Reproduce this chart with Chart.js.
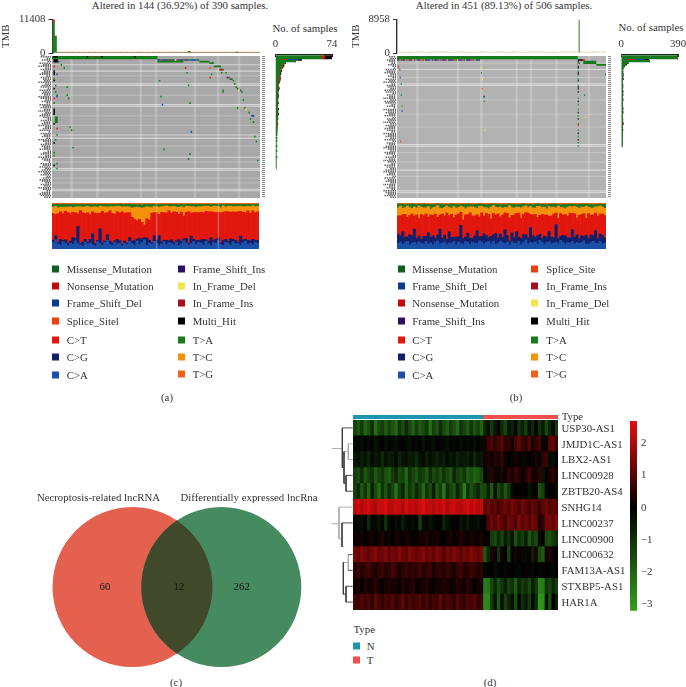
<!DOCTYPE html>
<html>
<head>
<meta charset="utf-8">
<title>Mutation landscape and lncRNA heatmap</title>
<script src="https://cdn.jsdelivr.net/npm/chart.js@4"></script>
<style>
  html, body { margin: 0; padding: 0; background: #fff; }
  body { position: relative; width: 686px; height: 687px; overflow: hidden; font-family: "Liberation Serif", serif; color: #333; }
  canvas { position: absolute; display: block; }
  .t { position: absolute; white-space: nowrap; font-size: 10.8px; line-height: 12px; transform: translateY(-50%); }
  .c { transform: translate(-50%, -50%); }
  .sq { position: absolute; width: 7px; height: 7px; transform: translateY(-50%); }
</style>
</head>
<body>
<script>
// ---- colours
const colMissense = '#167a1c', colNonsense = '#d9140f', colFsDel = '#12459c', colSplice = '#ee4a14';
const colFsIns = '#2b0f66', colInDel = '#f2e44d', colInIns = '#a8101f', colMulti = '#000000';
const colCA = '#1b50a8', colCG = '#12206b', colCT = '#e2170d', colTA = '#1b7a1f', colTC = '#f5920b', colTG = '#f0621a';

// ---- panel (a) TMB
const tmbPaleA = [0,0,300,420,260,380,240,450,310,280,390,220,340,410,270,300,360,250,430,290,320,380,240,350,400,270,310,260,440,300,
  340,230,390,280,360,310,250,420,270,330,380,240,300,450,290,350,260,410,320,280,370,230,340,400,300,260,390,310,280,430,
  250,360,320,270,410,300,340,240,0,380,290,350,260,420,310,280,370,230,400,330,270,360,300,250,440,290,340,380,260,310,
  420,280,350,240,390,300,270,360,320,250,410,290,340,280];
const tmbSpikeColsA = [0, 1, 68, 92];
const tmbSpikeGreenA = [10500, 5500, 480, 260];
const tmbSpikeRedA = [908, 240, 0, 0];

// ---- panel (b) TMB
const tmbPaleB = [200,310,260,180,340,230,280,320,190,250,360,210,300,270,170,330,240,290,220,350,260,190,310,280,230,340,200,270,320,250,
  180,300,360,220,260,290,210,330,240,190,310,270,350,230,280,200,320,250,170,300,260,340,220,290,190,310,240,280,360,210,
  270,330,200,250,300,180,340,260,220,290,310,230,190,350,270,240,320,210,280,260,300,190,340,230,270,310,250,200,360,220,
  280,0,300,240,190,330,260,210,290,350,230,270,200,320,250];
const tmbSpikeColsB = [91];
const tmbSpikeGreenB = [8400];
const tmbSpikeRedB = [558];

// ---- oncoplot (a): [first sample, last sample, row]
const missenseA = [[0,73,0],[0,73,1],[76,77,2],[81,83,2],[87,88,2],[90,91,2],[94,96,2],[100,102,2],[73,91,3],[102,109,3],[109,112,4],[112,117,6],[116,119,8],
  [6,7,5],[8,9,7],[93,94,10],[110,111,11],[117,118,10],[120,121,10],[123,125,14],[125,126,15],[126,127,17],[127,128,19],[128,129,20],[131,132,22],
  [118,119,21],[118,119,22],[132,133,27],[128,129,32],[133,134,32],[136,137,35],[137,138,39],[139,140,41],[140,141,50],[141,142,53],[142,143,65],
  [74,75,15],[94,95,18],[75,76,25],[95,96,29],[77,78,58],[95,96,61],[94,95,64],
  [10,11,19],[10,11,24],[11,12,26],[12,13,44],[13,14,46],[14,15,57],
  [1,2,14],[2,3,18],[2,3,22],[3,4,24],[1,2,29],[2,4,38],[2,4,39],[2,4,40],[2,4,41],[3,4,49],[2,3,52],[1,2,60],[1,2,62],[3,4,67],[3,4,70]];
const nonsenseA = [[75,76,2],[80,81,2],[86,87,2],[91,92,2],[30,31,0],[92,93,7],[109,110,13],[122,123,13],[116,118,8],[1,2,6],[1,2,26],[3,4,45]];
const frameDelA = [[73,75,2],[77,80,2],[83,85,2],[88,90,2],[92,94,2],[96,100,2],[4,5,3],[3,4,11],[3,4,25],[121,122,13],[130,131,21],[138,140,37],[76,77,30],[96,97,47]];
const spliceA = [[109,110,7]];
const inDelA = [[85,86,2],[129,130,21],[134,135,33]];
const multiA = [[1,4,0],[24,25,0],[34,35,0],[57,58,0],[1,4,2],[1,4,3],[1,2,9],[1,2,10],[1,2,11],[1,2,15],[1,2,20],[1,2,33],[1,2,34],[1,2,35],[1,2,36],[1,2,42],[1,2,54],[1,2,68]];
const whiteRowsA = [5,9,17,18,30,31,49,51,63,70,71,83,84];
const paleRowsA = [12,24,37,43,56,66,76,79];
const paleColsA = [[12,15],[30,33],[60,63],[71,73],[98,100],[114,116],[128,131]];
const labelCharsA = [9,4,8,3,10,7,11,5,9,6,8,10,4,9,7,6,11,5,8,9,3,10,7,8,6,11,9,5,8,4,10,7,9,6,12,5,8,10,7,3,9,6,8,11,5,7,10,2,9,6,8,4,11,7,5,9,
  8,6,10,3,7,9,5,11,8,6,2,9,7,10,5,8,11,6,9,4,7,10,8,5,9,6,11,7,4,8,10,9,6];

// ---- oncoplot (b)
const missenseB = [[0,390,0],[0,390,1],[390,392,4],[390,392,9],[390,392,14],[390,392,18],[390,392,26],[390,392,30],[390,392,33],[390,392,37],[390,392,42],[390,392,46],[390,392,50],[390,392,54],[390,392,56],
  [402,430,3],[402,430,4],[430,451,5],[393,395,4],[5,7,8],[8,10,17],[8,10,24],[10,12,31],[181,183,10],[186,188,25],[187,189,28],[190,192,51],[404,406,24],[449,451,11],
  [3,5,2],[9,12,2],[16,18,2],[30,33,2],[42,44,2],[60,63,2],[75,78,2],[92,94,2],[110,112,2],[126,129,2],[145,147,2],[165,167,2],[176,179,2]];
const nonsenseB = [[5,7,2],[20,23,2],[37,40,2],[55,58,2],[70,72,2],[88,90,2],[104,107,2],[120,123,2],[139,142,2],[158,161,2],[401,405,2],[2,4,6],[390,392,43]];
const frameDelB = [[0,3,2],[12,16,2],[26,30,2],[44,50,2],[63,70,2],[80,88,2],[97,104,2],[112,120,2],[132,139,2],[149,158,2],[170,176,2],[6,8,13],[10,12,34],[188,190,25]];
const spliceB = [[7,9,2],[23,26,2],[50,55,2],[78,80,2],[94,97,2],[123,126,2],[142,145,2],[161,165,2],[7,9,53],[183,185,20],[2,4,7]];
const inDelB = [[180,182,7],[183,185,14],[189,191,46],[405,407,38]];
const multiB = [[390,401,2],[390,392,3],[390,392,6],[390,392,7],[390,392,10],[390,392,11],[390,392,15],[390,392,19],[390,392,20],[390,392,22],[390,392,28],[390,392,35],[390,392,39],[390,392,48],[390,392,52]];
const whiteRowsB = [8,17,18,55,56,71,84,85];
const paleRowsB = [4,13,27,36,44,60,66,75];
const paleColsB = [[40,48],[128,135],[178,186],[255,262],[285,293],[340,348],[410,418]];
const labelCharsB = [6,5,8,6,4,7,3,2,9,8,10,5,7,3,9,6,11,4,8,7,5,10,9,3,8,6,12,5,10,9,4,8,2,11,7,9,6,10,3,8,7,12,5,9,6,10,8,4,11,7,9,5,10,3,8,
  6,9,11,7,5,10,8,3,9,6,12,7,4,10,8,5,9,11,6,8,3,10,7,9,5,12,6,8,4,11,9,7,10,5];

// ---- side bars: number of samples per row
const sideGreenA = [0,60,60,9,26,13,10,8,7,6,6,5,5,5,4,4,4,4,3,3,3,3,3,3,2,3,2,3,2,2,3,2,2,2,3,2,2,2,2,2,3,2,2,2,2,2,1,2,1,2,2,1,2,1,2,1,1,2,1,1,2,1,1,1,2,1,1,1,1,1,1,1];
const sideRedA = [0,4,4,6,0,0,1,2,2,1,1,1,0,0,2,2,1,1,1,0,1,1,0,0,1,1,1,0,1,0,0,1,0,0,0,0,0,1,0,0,0,0,0,1,0,0,1];
const sideBlueA = [0,0,0,15,0,0,0,0,0,0,0,0,1,0,0,0,0,0,0,0,0,0,1,0,0,0,1,0,0,0,1,0,0,0,0,0,0,0,1,0,0,0,0,0,0,0,0,0,1];
const sideBlackA = [0,10,10,4,0,0,0,1,0,0,1,1,1,0,0,0,1,0,0,0,0,1,0,0,0,0,0,0,0,0,0,0,0,0,1,1,1,1];
const sideGreenB = [0,385,385,34,195,40,30,20,12,10,10,9,10,9,8,10,9,9,8,10,9,8,9,10,9,8,9,9,10,8,9,8,9,9,8,9,10,8,9,9,8,10,8,9,8,9,8,9,8,8,9,8,9,8,8,9,8,8];
const sideRedB = [0,3,3,57,0,0,0,0,0,0,0,0,0,0,0,2,0,0,0,0,0,0,0,0,0,0,0,0,0,0,0,0,0,0,0,0,0,0,0,0,0,0,0,3,0,0,0,0,0,0,0,2];
const sideBlueB = [0,0,0,69,0,0,0,0,0,0,0,0,0,3,0,0,0,0,0,0,0,0,0,0,0,3,0,0,0,0,0,0,0,0,3];
const sideBlackB = [0,2,2,30,0,8,6,0,0,0,0,2,2,0,0,2,0,0,0,0,2,2,0,2,0,0,0,0,2,0,0,0,0,2,0,0,2,0,0,0,2,0,0,2,0,0,0,2];

// ---- transitions and transversions, share per sample group, bottom to top
const txCA_A = [14,20,11,8,16,12,7,13,10,18,12,9,6,15,11,13,9,7,16,12,8,14,19,10,8,15,11,13,7,12,10,17,12,8,18,11,15,20,8,13,10,17,12,7,11,16,9,14,12,9,15,8,11,18,13,8,12,16,10,15,13,9,17,11,7,14,12,19,10,8,15,13,9,16,11,12,8,14,17,10,13,9,15,12];
const txCG_A = [5,9,4,13,3,8,6,4,15,5,38,3,9,6,4,8,24,5,3,32,6,4,12,7,5,3,10,5,4,6,3,8,5,11,4,14,8,5,16,6,4,12,7,22,5,3,10,4,8,5,3,14,6,4,10,5,16,5,8,4,7,12,3,6,18,4,9,5,3,11,6,4,13,5,8,3,20,6,4,9,5,12,4,7];
const txCT_A = [58,46,62,60,58,62,66,60,55,56,28,72,64,56,64,54,48,66,58,34,68,60,48,66,64,58,60,60,70,60,66,54,52,48,40,46,36,28,42,44,64,50,60,46,64,60,60,66,58,66,62,58,64,50,56,68,50,58,62,60,60,58,62,64,56,62,58,56,66,62,60,64,58,60,62,66,54,60,58,64,60,62,60,62];
const txTC_A = [14,18,12,10,14,9,12,15,10,12,16,8,12,15,14,16,10,14,13,15,10,14,12,9,15,16,12,14,10,14,13,12,20,26,30,28,32,38,26,28,12,14,13,16,12,14,15,9,14,12,11,16,12,18,13,12,14,13,10,13,12,14,11,12,10,13,14,12,11,14,10,12,13,11,12,12,11,12,13,10,14,11,13,12];
const txTA_A = [6,4,8,6,6,6,6,5,7,6,5,5,6,5,4,6,6,5,7,4,5,5,6,5,5,5,4,5,6,5,5,6,8,7,5,8,6,7,5,6,7,4,5,6,5,4,3,5,5,4,6,7,5,6,4,4,5,5,7,5,5,4,4,4,6,4,4,5,7,3,6,4,4,5,5,4,4,5,5,4,5,3,5,4];
const txTG_A = [3,3,3,3,3,3,3,3,3,3,3,3,3,3,3,3,3,3,3,3,3,3,3,3,3,3,3,2,3,3,3,3,3,3,4,3,5,3,3,3,3,3,3,3,3,3,3,3,3,3,3,3,3,4,3,3,3,3,3,3,3,3,3,3,3,3,3,3,3,3,3,3,3,3,3,3,3,3,3,3,3,3,3,3];
const gapColsA = [42, 67];

const txCA_B = [12,16,10,14,18,9,13,15,11,17,13,10,16,12,14,9,15,19,11,13,16,10,14,12,18,9,15,13,11,17,14,10,16,12,13,19,15,11,14,17,12,16,10,13,18,14,11,15,9,16,13,12,17,10,14,19,11,15,13,16,12,18,14,10,15,17,11,13,16,12,19,14,10,15,13,17,11,16,12,14,18,13,10,15,17,12,14,16,11,13];
const txCG_B = [20,14,28,12,10,22,16,30,12,14,8,18,11,26,13,20,9,14,32,11,16,10,24,13,9,17,12,38,15,10,20,13,9,16,28,10,12,22,15,9,18,13,24,11,16,12,30,14,10,19,12,26,9,15,17,11,13,34,16,10,20,13,9,18,12,24,15,11,40,13,9,16,20,12,10,26,14,18,11,15,9,22,13,16,12,28,10,15,19,12];
const txCT_B = [40,46,38,50,46,42,48,30,52,42,54,46,48,36,50,44,52,42,30,52,44,56,36,50,46,48,50,28,46,50,40,54,52,44,36,46,50,38,48,52,42,44,40,52,40,50,36,48,56,38,50,40,52,48,44,46,54,30,46,50,44,40,52,46,50,36,46,52,26,48,50,44,48,50,54,36,50,40,52,46,50,42,54,44,46,38,52,42,46,50];
const txTC_B = [18,22,14,15,26,17,12,20,15,30,16,17,13,24,13,17,15,28,15,12,20,15,18,13,26,15,14,13,32,14,16,13,21,18,14,24,14,19,12,13,28,16,17,14,22,15,12,13,30,17,15,14,13,24,16,14,12,18,15,14,27,19,15,17,14,23,18,15,12,29,13,16,13,21,15,14,16,26,15,16,14,31,14,16,15,14,22,17,15,16];
const txTA_B = [7,5,9,6,4,7,10,6,7,4,6,9,7,5,10,7,6,4,8,9,6,3,7,9,5,8,6,4,7,10,7,5,5,7,9,6,4,7,6,10,7,3,6,7,5,9,6,7,4,7,8,5,6,9,6,3,7,5,7,8,6,4,7,6,9,5,7,7,8,4,6,7,10,7,5,6,4,6,9,6,7,5,6,8,7,5,6,4,6,9];
const txTG_B = [3,2,3,4,3,3,2,3,4,3,3,2,3,3,4,3,3,2,3,3,4,3,3,2,3,3,4,3,3,3,2,3,4,3,3,2,3,3,4,3,3,2,3,3,4,3,3,3,2,3,3,4,3,3,2,3,3,3,4,3,2,3,3,3,4,3,3,2,3,3,4,3,3,3,2,3,3,4,3,3,2,3,3,3,4,3,3,2,3,3];

// ---- panel (c) venn
const vennLeftOnly = 60, vennBoth = 12, vennRightOnly = 262;
const vennCentres = [0, 1.11];

// ---- panel (d) heatmap, z score x 10
const geneNames = ['USP30-AS1','JMJD1C-AS1','LBX2-AS1','LINC00928','ZBTB20-AS4','SNHG14','LINC00237','LINC00900','LINC00632','FAM13A-AS1','STXBP5-AS1','HAR1A'];
const typeCounts = [38, 22];
const heatUSP30 = [-14,-18,-11,-20,-16,-9,-22,-15,-12,-19,-13,-17,-21,-10,-16,-8,-14,-20,-12,-18,-15,-11,-23,-13,-17,-9,-15,-19,-12,-16,-21,-10,-14,-18,-11,-17,-13,-20,-8,-3,-12,-5,2,-9,-14,-4,-7,-1,-11,-6,-13,-3,-8,1,-10,-5,-15,-7,-2,-12];
const heatJMJD1C = [-2,-1,-3,0,-2,-1,-4,-2,0,-3,-1,-2,-3,-1,0,-2,-3,-1,-2,0,-4,-1,-2,-3,0,-1,-2,-3,-1,-2,0,-3,-1,-2,-1,-3,0,-2,3,7,9,5,8,10,4,6,2,8,11,7,5,9,3,6,8,1,2,10,12,7];
const heatLBX2 = [-5,-3,-6,-4,-7,-2,-5,-4,-8,-3,-6,-5,-2,-7,-4,-3,-6,-5,-8,-4,-2,-6,-3,-5,-7,-4,-6,-2,-5,-3,-7,-4,-5,-6,-3,-8,-4,-5,2,4,1,5,3,6,2,0,-1,3,1,-2,2,0,1,3,-1,6,7,-2,-3,0];
const heatL928 = [-12,-15,-9,-17,-13,-10,-18,-14,-11,-16,-19,-12,-8,-15,-13,-20,-10,-14,-17,-11,-13,-18,-9,-15,-12,-16,-10,-14,-17,-8,-13,-15,-11,-19,-16,-20,-18,-14,1,-3,5,2,-2,4,-1,6,3,7,5,1,4,8,3,2,6,-4,-1,3,6,2];
const heatZBTB = [-13,-8,-18,-11,-20,-6,-15,-22,-10,-17,-9,-14,-23,-12,-7,-19,-11,-16,-8,-13,-21,-10,-15,-6,-18,-12,-24,-9,-14,-17,-7,-13,-25,-10,-16,-12,-8,-15,-14,-6,-18,-3,-15,-9,-17,-11,-2,0,1,-1,0,-4,-2,0,-16,-13,-1,0,1,-3];
const heatSNHG = [22,24,21,23,25,22,20,24,23,26,21,22,24,23,20,25,22,23,21,24,26,22,23,21,24,22,25,20,23,24,22,21,23,25,22,24,21,23,10,13,9,12,8,11,13,10,14,12,9,13,11,8,12,10,7,11,13,9,12,10];
const heatL237 = [-1,-2,-3,0,-8,-1,-2,-4,-1,-10,-2,0,-3,-1,-6,-2,-1,-3,0,-12,-2,-1,-4,-2,0,-1,-7,-3,-2,-1,0,-4,-2,-5,-1,-2,-3,-1,1,9,13,10,14,11,8,13,12,9,15,11,13,10,14,12,3,6,13,14,12,15];
const heatL900 = [2,1,3,0,2,3,1,2,4,1,2,0,3,2,1,3,2,0,1,3,2,4,1,2,3,1,0,2,3,1,2,4,2,1,3,2,1,3,0,1,-12,-15,-8,-14,-5,-10,-3,-16,-9,-13,-6,-17,-11,-15,-2,1,-14,-16,-12,-9];
const heatL632 = [14,12,15,13,11,14,16,12,13,15,11,14,12,16,13,11,15,14,12,13,16,11,14,12,15,13,10,14,12,15,13,11,14,12,16,13,12,14,-18,-8,3,1,-10,2,0,-14,1,3,0,2,-2,1,-6,3,-15,-18,2,4,1,0];
const heatFAM13A = [5,7,4,6,8,5,3,6,7,4,5,8,6,3,5,7,4,6,5,8,4,6,7,3,5,6,4,7,5,3,6,8,4,5,7,6,4,5,-2,-1,0,-3,-1,0,-2,1,0,-1,-2,0,1,-1,-2,0,-1,1,0,-1,-2,0];
const heatSTXBP5 = [2,3,1,4,2,3,5,2,1,3,4,2,3,1,4,2,3,5,1,2,3,4,2,1,3,2,4,3,1,2,4,3,2,5,3,1,2,3,-25,-24,-14,-8,-16,-11,-6,-13,-10,-18,-7,-12,-9,-15,-6,-11,-26,-25,-10,-14,-8,-12];
const heatHAR1A = [8,6,10,7,9,5,11,8,6,9,7,10,5,8,11,6,9,7,8,10,6,9,5,8,7,11,6,9,8,5,10,7,6,9,8,10,6,7,-28,-27,-12,-4,-18,-2,-13,-7,-3,-15,-1,-9,-5,-12,-2,-8,-30,-29,-3,-16,0,-6];
const heatRows = [heatUSP30, heatJMJD1C, heatLBX2, heatL928, heatZBTB, heatSNHG, heatL237, heatL900, heatL632, heatFAM13A, heatSTXBP5, heatHAR1A];
const colorbarTicks = [-3, -2, -1, 0, 1, 2];

// dendrogram: [height, row, height, row]
const dendroDark = [[37,0.5,68,0.5],[37,0.5,37,3],[37,3,42,3],[42,2,42,4],[42,4,48,4],[48,3.5,48,4.5],[48,3.5,68,3.5],[48,4.5,68,4.5],
  [36,6.5,68,6.5],[36,6.5,36,8],[36,8,40,8],[40,9,40,11],[40,11,48,11],[48,10.5,48,11.5],[48,10.5,68,10.5],[48,11.5,68,11.5],[55,8.5,68,8.5],[55,9.5,68,9.5]];
const dendroGrey = [[5,1.8,37,1.8],[5,6.55,27,6.55],[27,5.5,68,5.5],[27,5.5,27,7.5],[27,7.5,36,7.5],[55,1.5,68,1.5],[55,2.5,68,2.5],[55,1.5,55,2.5],[42,2,55,2],[55,8.5,55,9.5],[40,9,55,9]];

// ---- settings
const SERIF = '"Liberation Serif", serif';
Chart.defaults.font.family = SERIF;
Chart.defaults.color = '#333';
Chart.defaults.animation = false;
Chart.defaults.layout.autoPadding = false; // big points would shrink the plot otherwise

function addCanvas(left, top, w, h) {
  const c = document.createElement('canvas');
  c.width = w; c.height = h;
  c.style.left = left + 'px'; c.style.top = top + 'px';
  c.style.width = w + 'px'; c.style.height = h + 'px';
  document.body.appendChild(c);
  return c;
}

function addText(text, x, y, centred, color) {
  const d = document.createElement('div');
  d.className = centred ? 't c' : 't';
  d.textContent = text;
  d.style.left = x + 'px'; d.style.top = y + 'px';
  if (color) d.style.color = color;
  document.body.appendChild(d);
}

function addSquare(color, x, y) {
  const d = document.createElement('div');
  d.className = 'sq';
  d.style.left = x + 'px'; d.style.top = y + 'px';
  d.style.background = color;
  document.body.appendChild(d);
}

// turns [from, to, row] into points of one broken line
function segsToLine(segs) {
  const out = [];
  segs.forEach(s => {
    out.push({x: s[0], y: s[2] + 0.5}, {x: s[1], y: s[2] + 0.5}, {x: null, y: null});
  });
  return out;
}

function lineSet(data, color, width, extra) {
  return Object.assign({
    data: data, borderColor: color, borderWidth: width, pointRadius: 0,
    borderCapStyle: 'butt', tension: 0, spanGaps: false
  }, extra || {});
}

// keeps the plot area exactly where layout.padding puts it
function noScalePadding(s) {
  s.paddingTop = 0; s.paddingBottom = 0; s.paddingLeft = 0; s.paddingRight = 0;
}

const NO_PLUGINS = { legend: {display: false}, tooltip: {enabled: false}, title: {display: false} };
const ROWS = 89;

// Oncoplot of one cohort
function drawOnco(cfg) {
  const pps = cfg.plotW / cfg.samples;
  const allRows = [];
  for (let r = 0; r < ROWS; r++) allRows.push([0, cfg.samples, r]);
  const labelSegs = cfg.labelChars.map((n, r) => [-(n * 1.15 + 1) / pps, -1 / pps, r]);
  const c = addCanvas(cfg.left, 56, cfg.w, 142);
  const rightX = cfg.samples + 3.5 / pps;
  new Chart(c, {
    type: 'line',
    data: {
      datasets: [
        lineSet(segsToLine(cfg.yellow), colInDel, 1.7),
        lineSet(segsToLine(cfg.black), colMulti, 1.7),
        lineSet(segsToLine(cfg.splice), colSplice, 1.7),
        lineSet(segsToLine(cfg.blue), colFsDel, 1.7),
        lineSet(segsToLine(cfg.red), colNonsense, 1.7),
        lineSet(segsToLine(cfg.green), colMissense, 1.7),
        lineSet(segsToLine(cfg.whiteRows.map(r => [0, cfg.samples, r])), 'rgba(255,255,255,0.5)', 1.1),
        lineSet(segsToLine(cfg.paleRows.map(r => [0, cfg.samples, r])), 'rgba(255,255,255,0.22)', 1.2),
        lineSet(cfg.paleCols.flatMap(p => [{x: (p[0] + p[1]) / 2, y: 0}, {x: (p[0] + p[1]) / 2, y: ROWS}, {x: null, y: null}]), 'rgba(255,255,255,0.2)', 2.5),
        lineSet(segsToLine(allRows), cfg.grey, 1.8),
        lineSet(segsToLine(labelSegs), 'rgba(40,40,40,0.72)', 1.5, {borderDash: [1.5, 0.8]}),
        lineSet([{x: rightX, y: 0}, {x: rightX, y: ROWS}], 'rgba(60,60,60,0.6)', 3, {borderDash: [1, 1]})
      ]
    },
    options: {
      responsive: false, maintainAspectRatio: false, animation: false,
      layout: {padding: 0},
      plugins: NO_PLUGINS,
      scales: {
        x: {type: 'linear', display: false, min: -(cfg.plotX - cfg.left) / pps, max: cfg.samples + (cfg.left + cfg.w - cfg.plotX - cfg.plotW) / pps},
        y: {type: 'linear', display: false, min: 0, max: ROWS, reverse: true}
      }
    }
  });
}

// TMB bars on top of an oncoplot
function drawTmb(cfg) {
  const c = addCanvas(cfg.left, 12, cfg.w, 47);
  const labels = cfg.pale.map((_, i) => i);
  const pick = vals => labels.map(i => { const k = cfg.cols.indexOf(i); return k < 0 ? 0 : vals[k]; });
  new Chart(c, {
    type: 'bar',
    data: {
      labels: labels,
      datasets: [
        {data: pick(cfg.green), backgroundColor: '#1f7d24', barPercentage: cfg.spikeWidth, categoryPercentage: 1},
        {data: pick(cfg.red), backgroundColor: '#d9251c', barPercentage: cfg.spikeWidth, categoryPercentage: 1},
        {data: cfg.pale, backgroundColor: cfg.paleColor, barPercentage: 1, categoryPercentage: 1}
      ]
    },
    options: {
      responsive: false, maintainAspectRatio: false, animation: false,
      layout: {padding: {top: 7.5, bottom: 6, right: 2}},
      plugins: NO_PLUGINS,
      scales: {
        x: {display: false, stacked: true},
        y: {
          stacked: true, min: 0, max: cfg.top,
          afterBuildTicks: s => { s.ticks = [{value: 0}, {value: cfg.top}]; },
          afterFit: s => { s.width = cfg.axisW; noScalePadding(s); },
          border: {color: '#333', width: 1.4},
          grid: {drawOnChartArea: false, tickLength: 4, color: '#333', lineWidth: 1},
          ticks: {padding: 3, font: {size: 10.8}, color: '#333', autoSkip: false, callback: v => String(v)},
          title: {display: true, text: 'TMB', font: {size: 10.8}, color: '#333', padding: 0}
        }
      }
    }
  });
}

// No. of samples bars on the right
function drawSide(cfg) {
  const c = addCanvas(cfg.left, 22, 70, 176);
  const labels = [];
  for (let i = 0; i < ROWS + 1; i++) labels.push(i);
  const set = (d, col) => ({data: d, backgroundColor: col, barPercentage: 1, categoryPercentage: 1});
  new Chart(c, {
    type: 'bar',
    data: {
      labels: labels,
      datasets: [set(cfg.green, colMissense), set(cfg.red, colNonsense), set(cfg.blue, colFsDel), set(cfg.black, colMulti)]
    },
    options: {
      indexAxis: 'y',
      responsive: false, maintainAspectRatio: false, animation: false,
      layout: {padding: {left: cfg.padL, right: cfg.padR}},
      plugins: NO_PLUGINS,
      scales: {
        y: {display: false, stacked: true},
        x: {
          position: 'top', stacked: true, min: 0, max: cfg.max,
          afterBuildTicks: s => { s.ticks = [{value: 0}, {value: cfg.max}]; },
          afterFit: s => { s.height = 32; noScalePadding(s); },
          border: {color: '#222', width: 1},
          grid: {drawOnChartArea: false, tickLength: -3, color: '#222'},
          ticks: {padding: 6, maxRotation: 0, autoSkip: false, font: {size: 10.8}, color: '#333'}
        }
      }
    }
  });
}

// Stacked shares below an oncoplot
function drawShares(cfg) {
  const c = addCanvas(cfg.left, cfg.top, cfg.w, cfg.h);
  const n = cfg.series[0].length;
  const totals = [];
  for (let i = 0; i < n; i++) totals.push(cfg.series.reduce((a, s) => a + s[i], 0));
  const cols = [colCA, colCG, colCT, colTC, colTA, colTG];
  const labels = totals.map((_, i) => i);
  const sets = cfg.series.map((s, k) => ({
    data: s.map((v, i) => v / totals[i] * 100), backgroundColor: cols[k], barPercentage: 1, categoryPercentage: 1, stack: 'share', order: 2
  }));
  if (cfg.gaps.length) {
    sets.push({
      data: labels.map(i => cfg.gaps.includes(i) ? 100 : 0), backgroundColor: 'rgba(255,255,255,0.38)',
      barPercentage: 0.4, categoryPercentage: 1, stack: 'gap', order: 1
    });
  }
  sets.forEach(s => { s.grouped = false; });
  new Chart(c, {
    type: 'bar',
    data: {labels: labels, datasets: sets},
    options: {
      responsive: false, maintainAspectRatio: false, animation: false,
      layout: {padding: 0},
      plugins: NO_PLUGINS,
      scales: {
        x: {display: false, stacked: true},
        y: {display: false, stacked: true, min: 0, max: 100}
      }
    }
  });
}

function legendBlock(items, sqX, txtX, ys) {
  items.forEach((it, i) => {
    addSquare(it[1], sqX, ys[i]);
    addText(it[0], txtX, ys[i]);
  });
}

// ---- heat colours
function heatColor(v) {
  if (v < 0) {
    const k = Math.min(1, -v / 3.2);
    return `rgb(${Math.round(52 * k)},${Math.round(158 * k)},${Math.round(30 * k)})`;
  }
  const k = Math.min(1, v / 2.7);
  return `rgb(${Math.round(228 * k)},${Math.round(14 * k)},${Math.round(14 * k)})`;
}

// ---- panels (a) and (b)
addText('Altered in 144 (36.92%) of 390 samples.', 180, 5, true);
addText('Altered in 451 (89.13%) of 506 samples.', 504, 5, true);
addText('No. of samples', 305, 28, true);
addText('No. of samples', 651, 27, true);

drawTmb({left: 0, w: 262, axisW: 52.5, top: 11408, pale: tmbPaleA, cols: tmbSpikeColsA, green: tmbSpikeGreenA, red: tmbSpikeRedA, paleColor: '#f2c6b4', spikeWidth: 1});
drawTmb({left: 350, w: 258, axisW: 47, top: 8958, pale: tmbPaleB, cols: tmbSpikeColsB, green: tmbSpikeGreenB, red: tmbSpikeRedB, paleColor: '#ecdcc0', spikeWidth: 0.5});

drawOnco({left: 38, w: 229, plotX: 52, plotW: 208, samples: 144, grey: '#a8a8a8',
  green: missenseA, red: nonsenseA, blue: frameDelA, splice: spliceA, yellow: inDelA, black: multiA,
  whiteRows: whiteRowsA, paleRows: paleRowsA, paleCols: paleColsA, labelChars: labelCharsA});
drawOnco({left: 383, w: 230, plotX: 397, plotW: 209, samples: 451, grey: '#b2b2b2',
  green: missenseB, red: nonsenseB, blue: frameDelB, splice: spliceB, yellow: inDelB, black: multiB,
  whiteRows: whiteRowsB, paleRows: paleRowsB, paleCols: paleColsB, labelChars: labelCharsB});

drawSide({left: 270, max: 74, padL: 5.5, padR: 8, green: sideGreenA, red: sideRedA, blue: sideBlueA, black: sideBlackA});
drawSide({left: 616, max: 390, padL: 5.3, padR: 8, green: sideGreenB, red: sideRedB, blue: sideBlueB, black: sideBlackB});

drawShares({left: 52, top: 203, w: 207, h: 46, gaps: gapColsA, series: [txCA_A, txCG_A, txCT_A, txTC_A, txTA_A, txTG_A]});
drawShares({left: 397, top: 203, w: 209, h: 46, gaps: [], series: [txCA_B, txCG_B, txCT_B, txTC_B, txTA_B, txTG_B]});

const legendYL = [268.7, 286, 303.3, 321.3, 340, 357.3, 374.7];
const legendYR = [268.7, 285.7, 302.7, 321, 340, 356.7, 374];
legendBlock([['Missense_Mutation','#0f5f1e'],['Nonsense_Mutation','#c40a0a'],['Frame_Shift_Del','#0c3b8c'],['Splice_Sitel','#ee3f10'],['C>T',colCT],['C>G',colCG],['C>A',colCA]], 52, 66.7, legendYL);
legendBlock([['Frame_Shift_Ins',colFsIns],['In_Frame_Del',colInDel],['In_Frame_Ins',colInIns],['Multi_Hit',colMulti],['T>A',colTA],['T>C',colTC],['T>G',colTG]], 178, 192.7, legendYR);
legendBlock([['Missense_Mutation','#0f5f1e'],['Frame_Shift_Del','#0c3b8c'],['Nonsense_Mutation','#c40a0a'],['Frame_Shift_Ins',colFsIns],['C>T',colCT],['C>G',colCG],['C>A',colCA]], 398, 412.3, legendYL);
legendBlock([['Splice_Site','#ee3f10'],['In_Frame_Ins',colInIns],['In_Frame_Del',colInDel],['Multi_Hit',colMulti],['T>A',colTA],['T>C',colTC],['T>G',colTG]], 531, 546.3, legendYR);

addText('(a)', 167, 397, true);
addText('(b)', 516, 397, true);
addText('(c)', 176, 682, true);
addText('(d)', 490, 682, true);

// ---- panel (c)
const lensPlugin = {
  id: 'lens',
  afterDatasetsDraw(chart) {
    const a = chart.getDatasetMeta(1).data[0], b = chart.getDatasetMeta(0).data[0];
    const ctx = chart.ctx;
    ctx.save();
    ctx.beginPath();
    ctx.arc(a.x, a.y, a.options.radius, 0, Math.PI * 2);
    ctx.clip();
    ctx.beginPath();
    ctx.arc(b.x, b.y, b.options.radius, 0, Math.PI * 2);
    ctx.fillStyle = '#404a2b';
    ctx.fill();
    ctx.restore();
  }
};
new Chart(addCanvas(40, 500, 275, 175), {
  type: 'scatter',
  data: {
    datasets: [
      {data: [{x: vennCentres[1], y: 0}], pointRadius: 80, pointBackgroundColor: '#468a60', pointBorderWidth: 0, clip: false},
      {data: [{x: vennCentres[0], y: 0}], pointRadius: 80, pointBackgroundColor: '#e5614f', pointBorderWidth: 0, clip: false}
    ]
  },
  options: {
    responsive: false, maintainAspectRatio: false, animation: false,
    layout: {padding: 0},
    plugins: NO_PLUGINS,
    scales: {
      x: {type: 'linear', display: false, min: -1.156, max: 2.281},
      y: {type: 'linear', display: false, min: -1.1, max: 1.0875}
    }
  },
  plugins: [lensPlugin]
});
addText('Necroptosis-related lncRNA', 98.5, 496.7, true);
addText('Differentially expressed lncRna', 249, 496.7, true);
addText(String(vennLeftOnly), 105, 585.7, true, '#111');
addText(String(vennBoth), 179, 585.7, true, '#111');
addText(String(vennRightOnly), 241.7, 585.7, true, '#111');

// ---- panel (d)
new Chart(addCanvas(330, 420, 23, 190), {
  type: 'line',
  data: {
    datasets: [
      lineSet(dendroDark.flatMap(s => [{x: s[0], y: s[1]}, {x: s[2], y: s[3]}, {x: null, y: null}]), '#3a3a3a', 0.9),
      lineSet(dendroGrey.flatMap(s => [{x: s[0], y: s[1]}, {x: s[2], y: s[3]}, {x: null, y: null}]), '#a8a8a8', 0.9)
    ]
  },
  options: {
    responsive: false, maintainAspectRatio: false, animation: false,
    layout: {padding: 0},
    plugins: NO_PLUGINS,
    scales: {
      x: {type: 'linear', display: false, min: 0, max: 69},
      y: {type: 'linear', display: false, min: 0, max: 12, reverse: true}
    }
  }
});

const nCols = heatRows[0].length;
const heatSets = [];
for (let i = 0; i < nCols; i++) {
  heatSets.push({
    data: heatRows.map(() => 1),
    backgroundColor: heatRows.map(r => heatColor(r[i] / 10)),
    barPercentage: 1, categoryPercentage: 1
  });
}
const heatBack = {
  id: 'heatBack',
  beforeDatasetsDraw(chart) {
    const a = chart.chartArea;
    chart.ctx.fillStyle = '#0c0c0c';
    chart.ctx.fillRect(a.left, a.top, a.right - a.left, a.bottom - a.top);
  }
};
new Chart(addCanvas(353, 420, 275, 190), {
  type: 'bar',
  data: {labels: geneNames, datasets: heatSets},
  options: {
    indexAxis: 'y',
    responsive: false, maintainAspectRatio: false, animation: false,
    layout: {padding: 0},
    plugins: NO_PLUGINS,
    scales: {
      x: {display: false, stacked: true, min: 0, max: nCols},
      y: {
        position: 'right', stacked: true,
        afterFit: s => { s.width = 70; noScalePadding(s); },
        border: {display: false},
        grid: {display: false, drawTicks: false},
        ticks: {padding: 3.5, labelOffset: 1, font: {size: 10.8}, color: '#333', autoSkip: false}
      }
    }
  },
  plugins: [heatBack]
});

new Chart(addCanvas(353, 415, 205, 4), {
  type: 'bar',
  data: {
    labels: ['Type'],
    datasets: [
      {data: [typeCounts[0]], backgroundColor: '#1f94ad', barPercentage: 1, categoryPercentage: 1},
      {data: [typeCounts[1]], backgroundColor: '#ee4f4a', barPercentage: 1, categoryPercentage: 1}
    ]
  },
  options: {
    indexAxis: 'y',
    responsive: false, maintainAspectRatio: false, animation: false,
    layout: {padding: 0},
    plugins: NO_PLUGINS,
    scales: {
      x: {display: false, stacked: true, min: 0, max: typeCounts[0] + typeCounts[1]},
      y: {display: false, stacked: true}
    }
  }
});
addText('Type', 561.7, 416);

// colour key
function keyGradient(context) {
  const area = context.chart.chartArea;
  if (!area) return '#000';
  const g = context.chart.ctx.createLinearGradient(0, area.bottom, 0, area.top);
  g.addColorStop(0, heatColor(-3.2));
  g.addColorStop(3.2 / 5.9, heatColor(0));
  g.addColorStop(1, heatColor(2.7));
  return g;
}
new Chart(addCanvas(630, 414, 28, 204), {
  type: 'bar',
  data: {labels: ['key'], datasets: [{data: [[-3.2, 2.7]], backgroundColor: keyGradient, barPercentage: 1, categoryPercentage: 1}]},
  options: {
    responsive: false, maintainAspectRatio: false, animation: false,
    layout: {padding: {top: 7, bottom: 7.3}},
    plugins: NO_PLUGINS,
    scales: {
      x: {display: false},
      y: {
        position: 'right', min: -3.2, max: 2.7,
        afterBuildTicks: s => { s.ticks = colorbarTicks.map(v => ({value: v})); },
        afterFit: s => { s.width = 21; noScalePadding(s); },
        border: {display: false},
        grid: {display: false, drawTicks: false},
        ticks: {padding: 4, font: {size: 10.8}, color: '#333', autoSkip: false, callback: v => String(v).replace('-', '\u2212')}
      }
    }
  }
});

addText('Type', 353.5, 628.7);
addSquare('#1f94ad', 353, 645.7);
addSquare('#ee4f4a', 353, 660);
addText('N', 366.7, 646);
addText('T', 366.7, 660);
</script>
</body>
</html>
